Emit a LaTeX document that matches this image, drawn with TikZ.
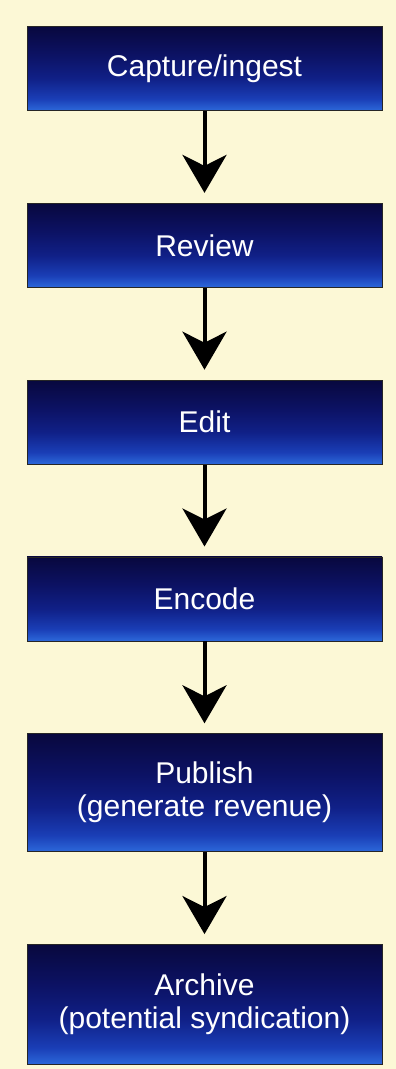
\documentclass[tikz,border=0pt]{standalone}
\usepackage{fontspec}
\setmainfont{Liberation Sans}
\usepackage{tikz}
\usetikzlibrary{positioning}
\usetikzlibrary{arrows.meta}
\definecolor{paper}{RGB}{252,248,214}
\definecolor{boxtop}{RGB}{8,8,62}
\definecolor{boxdark}{RGB}{12,18,100}
\definecolor{boxmid}{RGB}{16,32,135}
\definecolor{boxblue}{RGB}{26,62,182}
\definecolor{boxlight}{RGB}{44,104,218}
\pgfdeclareverticalshading{boxshade}{100bp}{color(0bp)=(boxlight); color(25bp)=(boxlight); color(32bp)=(boxblue); color(44bp)=(boxmid); color(58bp)=(boxdark); color(75bp)=(boxtop); color(100bp)=(boxtop)}
\tikzset{%
  myedge/.style={-{Stealth[length=38pt, width=44pt, inset=11pt]}, line width=4pt, shorten >=10pt},
  mybox/.style={rectangle, shade, shading=boxshade, draw=black!85, line width=0.8pt,
    minimum width=355pt, minimum height=84pt, text=white, align=center,
    font=\fontsize{30}{33}\selectfont, inner sep=0pt}
}

\begin{document}
\begin{tikzpicture}[x=1pt, y=1pt, node distance=92pt]

\fill [paper] (0,0) rectangle (396,-1069);
\useasboundingbox (0,0) rectangle (396,-1069);

% steps
\node [mybox] (capture) at (204.5,-68.5) {Capture/ingest};
\node [mybox, below=of capture] (review) {Review};
\node [mybox, below=of review] (edit) {Edit};
\node [mybox, below=of edit] (encode) {Encode};
\node [mybox, below=of encode, minimum height=118pt] (publish) {Publish\\(generate revenue)};
\node [mybox, below=of publish, minimum height=120pt] (archive) {Archive\\(potential syndication)};

% flow
\foreach \a / \b in {capture/review, review/edit, edit/encode, encode/publish, publish/archive}{
  \draw [myedge] (\a) -- (\b);
}

\end{tikzpicture}
\end{document}
